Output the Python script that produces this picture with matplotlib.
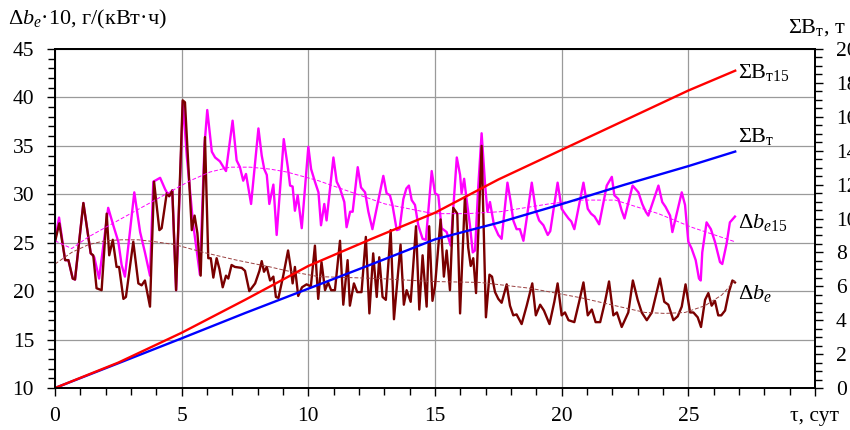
import matplotlib
matplotlib.use("Agg")
import matplotlib.pyplot as plt
from matplotlib.ticker import MultipleLocator

plt.rcParams['font.family'] = ['Liberation Serif', 'DejaVu Serif']
plt.rcParams['mathtext.fontset'] = 'custom'
plt.rcParams['mathtext.rm'] = 'Liberation Serif'
plt.rcParams['mathtext.it'] = 'Liberation Serif:italic'

# ---------------------------------------------------------------- data
# delta b_e (dark red), days / value*10 g/(kWh)
be_days = [0.0, 0.17, 0.40, 0.53, 0.70, 0.79, 1.12, 1.41, 1.51, 1.64, 1.84, 2.04, 2.14, 2.28, 2.43,
           2.53, 2.70, 2.80, 3.09, 3.29, 3.42, 3.55, 3.75, 3.91, 4.12, 4.21, 4.41, 4.51, 4.63, 4.78,
           5.04, 5.13, 5.40, 5.51, 5.62, 5.75, 5.92, 6.05, 6.15, 6.25, 6.38, 6.49, 6.62, 6.75, 6.84,
           6.97, 7.10, 7.37, 7.50, 7.67, 7.90, 8.07, 8.16, 8.25, 8.36, 8.49, 8.62, 8.72, 8.82, 9.01,
           9.20, 9.30, 9.38, 9.47, 9.60, 9.75, 9.93, 10.10, 10.26, 10.39, 10.52, 10.66, 10.78, 10.90,
           11.05, 11.25, 11.38, 11.55, 11.64, 11.80, 11.93, 12.10, 12.27, 12.41, 12.56, 12.70, 12.80,
           12.93, 13.06, 13.25, 13.38, 13.55, 13.64, 13.77, 13.88, 14.04, 14.25, 14.38, 14.51, 14.67,
           14.77, 14.90, 15.00, 15.22, 15.35, 15.46, 15.59, 15.72, 15.88, 15.99, 16.18, 16.31, 16.41,
           16.51, 16.62, 16.84, 17.01, 17.15, 17.25, 17.37, 17.50, 17.63, 17.83, 17.96, 18.09, 18.22,
           18.42, 18.62, 18.84, 18.98, 19.15, 19.30, 19.52, 19.71, 19.84, 20.00, 20.13, 20.27, 20.50,
           20.69, 20.86, 21.03, 21.19, 21.34, 21.52, 21.71, 21.87, 22.04, 22.18, 22.37, 22.63, 22.81,
           23.00, 23.16, 23.36, 23.56, 23.88, 24.05, 24.21, 24.41, 24.58, 24.74, 24.89, 25.07, 25.20,
           25.37, 25.50, 25.66, 25.79, 25.92, 26.05, 26.18, 26.30, 26.45, 26.60, 26.74, 26.84]
be_vals = [25.1, 27.0, 23.2, 23.2, 21.3, 21.2, 29.1, 23.9, 23.7, 20.3, 20.1, 28.0, 23.7, 25.3, 22.5,
           22.5, 19.2, 19.4, 25.1, 20.8, 20.6, 21.1, 18.4, 31.3, 26.3, 26.5, 30.1, 29.8, 30.4, 20.1,
           39.7, 39.5, 26.3, 27.8, 26.0, 21.6, 35.9, 23.4, 23.4, 21.4, 23.4, 22.3, 20.4, 21.6, 21.3,
           22.7, 22.5, 22.4, 22.1, 20.0, 20.8, 22.1, 23.1, 22.0, 22.5, 21.1, 21.5, 19.4, 19.3, 21.6,
           24.2, 22.5, 20.8, 22.5, 19.5, 20.4, 20.7, 20.5, 24.7, 19.2, 23.0, 20.1, 20.9, 20.1,
           20.1, 25.2, 18.6, 23.2, 18.5, 20.8, 19.9, 19.9, 25.6, 17.7, 23.9, 19.4, 23.5,
           19.4, 19.1, 26.3, 17.1, 22.2, 24.8, 18.6, 20.1, 18.9, 26.7, 18.1, 23.7, 18.4,
           26.7, 19.0, 20.5, 27.4, 21.5, 24.2, 20.1, 28.6, 28.0, 17.7, 29.7, 24.5, 22.6,
           23.4, 19.8, 35.0, 17.3, 21.7, 21.5, 19.9, 19.2, 18.8, 20.7, 18.5, 17.5, 17.6,
           16.6, 18.5, 20.8, 17.5, 18.6, 18.0, 16.6, 18.9, 20.8, 17.5, 17.8, 17.0, 16.8,
           18.9, 20.9, 17.5, 18.1, 16.8, 16.8, 18.9, 21.0, 17.5, 17.8, 16.3, 17.8, 21.1,
           19.1, 17.8, 17.0, 17.8, 21.3, 18.9, 18.6, 17.0, 17.4, 18.4, 20.7, 17.8, 17.8,
           17.3, 16.3, 19.1, 19.8, 18.5, 19.0, 17.5, 17.5, 18.0, 19.9, 21.1, 20.9]

# delta b_e15 (magenta)
be15_days = [0.0, 0.16, 0.30, 0.40, 0.53, 0.70, 0.79, 1.12, 1.41, 1.55, 1.74, 2.10, 2.30, 2.50, 2.63,
             2.76, 3.13, 3.36, 3.55, 3.75, 3.88, 4.15, 4.35, 4.50, 4.63, 4.78, 5.05, 5.20, 5.45, 5.72,
             5.90, 6.01, 6.19, 6.32, 6.51, 6.65, 6.75, 7.01, 7.17, 7.30, 7.43, 7.54, 7.74, 8.03, 8.16,
             8.26, 8.36, 8.46, 8.62, 8.75, 9.03, 9.19, 9.28, 9.38, 9.47, 9.58, 9.74, 10.00, 10.11,
             10.26, 10.40, 10.50, 10.63, 10.72, 10.99, 11.12, 11.25, 11.42, 11.51, 11.65, 11.75, 11.95,
             12.08, 12.24, 12.37, 12.53, 12.96, 13.09, 13.22, 13.32, 13.49, 13.60, 13.75, 13.87, 13.97,
             14.08, 14.21, 14.34, 14.51, 14.64, 14.87, 15.00, 15.13, 15.26, 15.46, 15.62, 15.86, 15.99,
             16.05, 16.15, 16.25, 16.38, 16.49, 16.58, 16.71, 16.84, 16.98, 17.07, 17.17, 17.33, 17.50,
             17.63, 17.86, 17.99, 18.09, 18.22, 18.35, 18.49, 18.62, 18.82, 18.98, 19.11, 19.28, 19.45,
             19.55, 19.84, 20.00, 20.13, 20.27, 20.38, 20.50, 20.86, 21.03, 21.16, 21.30, 21.48, 21.78,
             21.98, 22.08, 22.24, 22.37, 22.48, 22.80, 23.03, 23.18, 23.32, 23.42, 23.82, 23.97, 24.10,
             24.28, 24.37, 24.74, 24.87, 25.00, 25.13, 25.29, 25.42, 25.49, 25.55, 25.72, 25.89, 26.05,
             26.25, 26.34, 26.51, 26.64, 26.84]
be15_vals = [25.2, 27.6, 25.0, 23.2, 23.2, 21.3, 21.2, 29.1, 23.9, 23.5, 21.3, 28.6, 26.8, 25.1, 22.7,
             21.5, 30.2, 26.1, 24.0, 21.6, 31.3, 31.7, 30.5, 29.8, 30.4, 20.1, 39.6, 34.0, 27.0, 21.7,
             35.0, 38.7, 34.4, 33.8, 33.4, 32.8, 32.4, 37.6, 33.5, 32.8, 31.4, 32.1, 29.0, 36.8, 34.0,
             32.6, 32.0, 29.0, 31.0, 25.8, 35.7, 32.8, 30.9, 30.8, 28.3, 29.9, 26.5, 34.9, 32.6,
             31.3, 30.2, 26.8, 29.0, 27.3, 33.8, 31.3, 30.6, 29.2, 26.6, 28.2, 28.2, 32.8,
             30.7, 30.2, 28.2, 26.4, 31.9, 30.1, 29.9, 28.9, 26.3, 26.4, 29.5, 30.6, 30.9,
             29.4, 28.9, 26.8, 25.4, 25.3, 32.4, 30.1, 29.9, 26.5, 26.1, 24.7, 33.8, 32.0,
             30.1, 31.6, 29.4, 26.8, 24.0, 24.2, 30.9, 36.3, 30.9, 28.2, 29.2, 26.8, 25.8,
             25.4, 31.2, 29.2, 27.3, 26.4, 26.4, 25.2, 27.5, 31.2, 28.3, 27.3, 26.8, 25.8,
             26.2, 31.2, 28.5, 28.0, 27.5, 27.2, 26.4, 31.2, 28.5, 28.0, 27.7, 26.9, 30.9,
             31.8, 29.9, 29.5, 28.3, 27.5, 30.9, 30.2, 29.0, 28.2, 27.8, 30.9, 29.2, 28.7,
             27.8, 26.1, 30.2, 28.9, 25.1, 24.4, 23.2, 21.3, 21.1, 24.0, 27.1, 26.4, 25.1,
             23.0, 22.8, 24.9, 27.1, 27.7]

# trend lines (dashed)
tr15_days = [0.0, 0.66, 1.32, 2.63, 3.95, 5.33, 6.12, 6.91, 7.70, 8.49, 9.15, 10.40, 11.71, 13.03,
             14.94, 16.25, 17.57, 19.48, 20.79, 22.11, 23.82, 25.13, 26.84]
tr15_vals = [25.2, 24.4, 25.6, 27.5, 29.4, 31.4, 32.3, 32.8, 32.8, 32.6, 32.3, 31.4, 30.2, 29.0,
             28.0, 28.0, 28.2, 29.0, 29.4, 29.4, 28.0, 26.6, 25.1]
tr_days = [0.0, 0.66, 1.32, 1.97, 2.63, 3.29, 3.95, 4.74, 5.86, 7.17, 8.49, 9.15, 10.40, 12.83,
           14.80, 16.77, 18.75, 20.79, 22.11, 23.29, 24.08, 24.87, 25.66, 26.32, 26.84]
tr_vals = [22.8, 24.0, 24.8, 25.2, 25.3, 25.3, 25.1, 24.8, 24.0, 23.2, 22.5, 22.1, 21.5, 21.3,
           21.0, 20.9, 20.3, 19.3, 18.5, 17.8, 17.7, 17.8, 18.5, 19.6, 21.1]

# cumulative sums, tonnes (right axis)
sum_days = [0, 2.5, 5, 7.5, 10, 12.5, 15, 17.5, 20, 22.5, 25, 26.85]
sum15 = [0, 1.5, 3.26, 5.2, 7.2, 8.8, 10.34, 12.3, 14.05, 15.8, 17.55, 18.72]
sum_b = [0, 1.46, 2.93, 4.42, 5.86, 7.3, 8.77, 9.75, 10.85, 12.0, 13.09, 13.95]

x_ticks = [0, 5, 10, 15, 20, 25, 30]
x_labels = ['0', '5', '10', '15', '20', '25', 'τ, сут']

FS = 16

# ---------------------------------------------------------------- plot
fig = plt.figure(figsize=(8.5, 4.3), dpi=100)
ax = fig.add_axes([55 / 850, 1 - 388 / 430, 760 / 850, 339 / 430])
ax2 = ax.twinx()

ax.plot(be15_days, be15_vals, color='#FF00FF', lw=1.7, zorder=3)
ax.plot(be_days, be_vals, color='#7A0000', lw=1.7, zorder=4)
ax.plot(tr15_days, tr15_vals, color='#FF00FF', lw=0.7, ls=(0, (4, 2)), zorder=5)
ax.plot(tr_days, tr_vals, color='#9A4040', lw=0.7, ls=(0, (4, 2)), zorder=5)

ax2.plot(sum_days, sum_b, color='#0000FF', lw=1.7)
ax2.plot(sum_days, sum15, color='#FF0000', lw=1.7)

ax.set_xlim(0, 30)
ax.set_ylim(10, 45)
ax2.set_ylim(0, 20)

ax.set_xticks(x_ticks)
ax.set_xticklabels(x_labels)
ax.xaxis.set_minor_locator(MultipleLocator(1))
ax.yaxis.set_major_locator(MultipleLocator(5))
ax.yaxis.set_minor_locator(MultipleLocator(1))
ax2.yaxis.set_major_locator(MultipleLocator(2))
ax2.yaxis.set_minor_locator(MultipleLocator(0.5))

ax.grid(True, which='major', color='#9A9A9A', lw=0.9)
ax.set_axisbelow(True)

ax.tick_params(axis='both', which='major', direction='out', length=6, width=1, labelsize=15.5)
ax.tick_params(axis='both', which='minor', direction='out', length=5, width=1)
ax.tick_params(axis='y', pad=9)
ax.tick_params(axis='x', pad=8)
ax2.tick_params(axis='y', which='major', direction='out', length=6, width=1, labelsize=15.5, pad=9)
ax2.tick_params(axis='y', which='minor', direction='out', length=5, width=1)

for a in (ax, ax2):
    for s in a.spines.values():
        s.set_linewidth(1.3)

# series labels
ax.text(26.98, 42.6, 'ΣВ$_\\mathregular{т15}$', fontsize=FS, va='center', ha='left')
ax.text(26.98, 36.0, 'ΣВ$_\\mathregular{т}$', fontsize=FS, va='center', ha='left')
ax.text(26.98, 27.1, r'$\Delta b_{e\mathrm{15}}$', fontsize=FS, va='center', ha='left')
ax.text(26.98, 19.8, r'$\Delta b_{e}$', fontsize=FS, va='center', ha='left')

# axis titles
fig.text(8 / 850, 1 - 19 / 430, r'$\Delta b_e$·10, г/(кВт·ч)', fontsize=FS, va='center', ha='left')
fig.text(788 / 850, 1 - 28 / 430, 'ΣВ$_\\mathregular{т}$, т', fontsize=FS, va='center', ha='left')

fig.savefig('out.png', dpi=100)
